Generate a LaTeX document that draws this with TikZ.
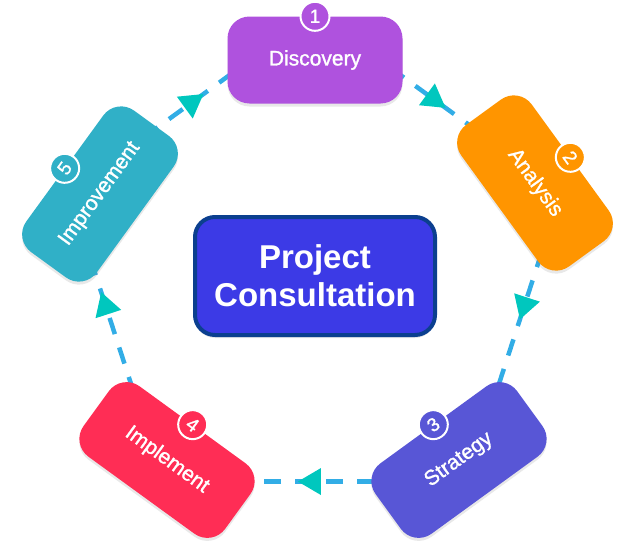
\documentclass[tikz,border=0pt]{standalone}
\usepackage{fontspec}
\setmainfont{Liberation Sans}
\newfontfamily\medfont{Liberation Sans}[FakeBold=1.2]
\usepackage{xcolor}
\usepackage{tikz}
\usetikzlibrary{calc,arrows.meta,decorations.markings,shadows}

\definecolor{discovery}{HTML}{AF52DE}
\definecolor{analysis}{HTML}{FF9500}
\definecolor{strategy}{HTML}{5856D6}
\definecolor{implement}{HTML}{FF2D55}
\definecolor{improve}{HTML}{30B0C7}
\definecolor{projfill}{HTML}{3C3AE6}
\definecolor{projline}{HTML}{0B3F8F}
\definecolor{dashblue}{HTML}{32ADE6}
\definecolor{tipteal}{HTML}{00C7BE}

\begin{document}
\begin{tikzpicture}[x=1pt,y=1pt,
		stagebox/.style={rounded corners=22pt,minimum width=175pt,minimum height=87pt,text=white,
			font=\medfont\fontsize{21}{25}\selectfont,
			drop shadow={opacity=.18,shadow xshift=0pt,shadow yshift=-3pt}},
		badge/.style={circle,draw=white,line width=2pt,minimum size=29pt,inner sep=0pt,text=white,
			font=\medfont\fontsize{19}{19}\selectfont},
		flow/.style={draw=dashblue,line width=4.5pt,dash pattern=on 17pt off 14pt,
			postaction={decorate},
			decoration={markings,mark=at position #1 with
				{\arrow{Triangle[length=23pt,width=27pt,line width=0pt,color=tipteal]}}}}]
			\def\rad{259}
			
			\useasboundingbox (0,0) rectangle (622,-549);
			
			\coordinate (c) at (315,-272);
			\foreach \i/\a in {1/90,2/18,3/-54,4/-126,5/162}
				\coordinate (v\i) at ($(c)+(\a:\rad)$);
			
			\draw[flow=0.53] (v1)--(v2);
			\draw[flow=0.44] (v2)--(v3);
			\draw[flow=0.556] (v3)--(v4);
			\draw[flow=0.654] (v4)--(v5);
			\draw[flow=0.547] (v5)--(v1);
			
			\node[stagebox,fill=discovery] (disc) at (315,-60) {Discovery};
			\node[stagebox,fill=analysis,rotate=-54] (anal) at (535,-183) {Analysis};
			\node[stagebox,fill=strategy,rotate=36] (strat) at (459,-460) {Strategy};
			\node[stagebox,fill=implement,rotate=-36] (impl) at (167,-460) {Implement};
			\node[stagebox,fill=improve,rotate=54] (impr) at (100,-194) {Improvement};
			
			\foreach \n/\col/\r/\k in {disc/discovery/0/1,anal/analysis/-54/2,strat/strategy/36/3,
				impl/implement/-36/4,impr/improve/54/5}
				\node[badge,fill=\col,rotate=\r] (b\k) at (\n.north) {\k};
			
			\node[draw=projline,line width=4pt,fill=projfill,rounded corners=20pt,
				minimum width=240pt,minimum height=118pt,text=white,align=center,
				font=\bfseries\fontsize{33}{38}\selectfont,
				drop shadow={opacity=.18,shadow xshift=0pt,shadow yshift=-3pt}]
				(proj) at (315,-276) {Project\\Consultation};
		\end{tikzpicture}
\end{document}
